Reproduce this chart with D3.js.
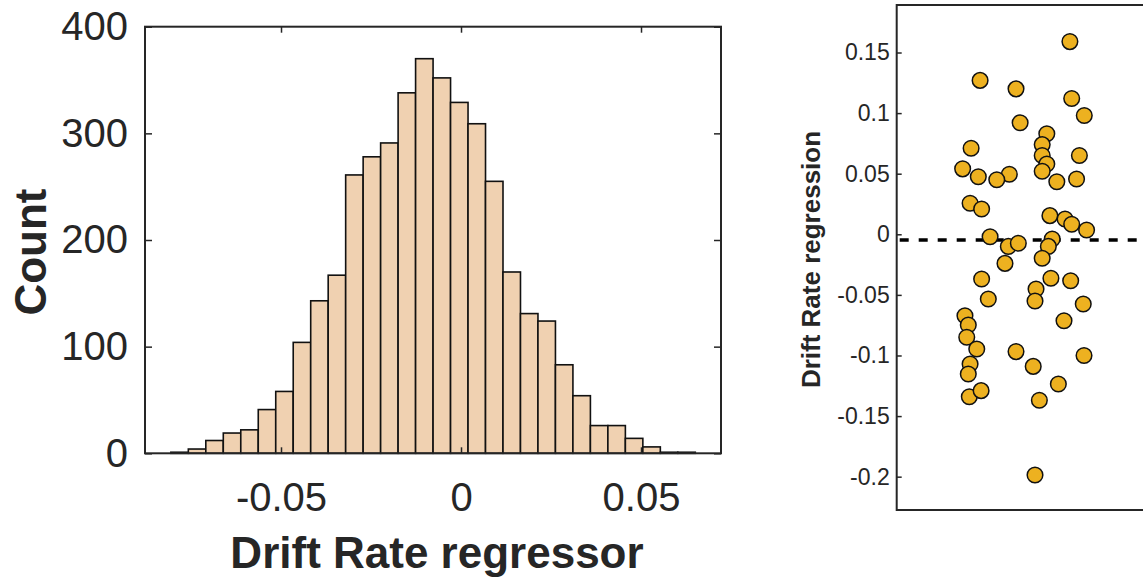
<!DOCTYPE html>
<html>
<head>
<meta charset="utf-8">
<script src="https://cdn.jsdelivr.net/npm/d3@7/dist/d3.min.js"></script>
<style>
  body { margin: 0; background: #fff; }
  svg { display: block; font-family: "Liberation Sans", Arial, Helvetica, sans-serif; }
</style>
</head>
<body>
<svg></svg>
<script>
// left panel: histogram, counts
const binStart = -0.0806;
const binWidth = 0.004856;
const binCounts = [1, 4, 12, 19, 22, 41, 58, 104, 143, 167, 261, 278, 291, 338, 370,
                   352, 329, 309, 255, 170, 131, 124, 83, 54, 26, 26, 14, 6, 1, 1];
const histXTicks = [-0.05, 0, 0.05];
const histYTicks = [0, 100, 200, 300, 400];

// right panel: one point per subject, x is jitter around 1
const subjX = [1.175, 0.825, 0.965, 1.182, 1.231, 0.981, 1.085, 0.790, 1.067, 1.067,
               1.212, 1.085, 0.757, 1.067, 0.939, 0.818, 0.890, 1.124, 1.201, 0.786,
               0.831, 1.097, 1.156, 1.182, 1.240, 0.864, 0.935, 0.974, 1.106, 1.091,
               1.067, 0.922, 0.831, 0.857, 0.766, 0.779, 0.773, 0.812, 0.786, 0.779,
               0.783, 0.829, 0.965, 1.032, 1.056, 1.130, 1.230, 1.039, 1.043, 1.039,
               1.101, 1.178, 1.227, 1.152];
const subjY = [0.159, 0.127, 0.120, 0.112, 0.098, 0.092, 0.083, 0.071, 0.074, 0.065,
               0.065, 0.058, 0.054, 0.052, 0.0495, 0.0475, 0.045, 0.0434, 0.0456, 0.0256,
               0.0209, 0.0154, 0.0126, 0.0083, 0.0035, -0.002, -0.010, -0.0074, -0.0039, -0.010,
               -0.0198, -0.024, -0.0369, -0.0534, -0.0672, -0.0748, -0.085, -0.0946, -0.107, -0.1153,
               -0.134, -0.129, -0.0968, -0.109, -0.137, -0.1235, -0.100, -0.1986, -0.0451, -0.055,
               -0.0363, -0.0383, -0.0575, -0.0713];
const meanY = -0.0047;
const scatterYTicks = [-0.2, -0.15, -0.1, -0.05, 0, 0.05, 0.1, 0.15];

const available = { width: 1143, height: 578 };
const axisColor = '#262626';

const svg = d3.select('svg')
  .attr('width', available.width)
  .attr('height', available.height);

// ---------- histogram ----------
const hist = { left: 145, top: 26.7, right: 721, bottom: 453.3 };

const hx = d3.scaleLinear().domain([-0.08778, 0.07222]).range([hist.left, hist.right]);
const hy = d3.scaleLinear().domain([0, 400]).range([hist.bottom, hist.top]);

const bins = binCounts.map((c, i) => ({
  x0: binStart + i * binWidth,
  x1: binStart + (i + 1) * binWidth,
  count: c
}));

const histG = svg.append('g').attr('class', 'hist');

histG.selectAll('rect.bar')
  .data(bins)
  .enter()
  .append('rect')
  .attr('class', 'bar')
  .attr('x', d => hx(d.x0))
  .attr('width', d => hx(d.x1) - hx(d.x0))
  .attr('y', d => hy(d.count))
  .attr('height', d => hy(0) - hy(d.count))
  .attr('fill', '#f0d1b1')
  .attr('stroke', '#111')
  .attr('stroke-width', 1.6);

const numFmt = d => String(d);

function styleAxis(g, size) {
  g.select('.domain').remove();
  g.selectAll('.tick line').attr('stroke', axisColor).attr('stroke-width', 1.5);
  g.selectAll('.tick text')
    .attr('fill', axisColor)
    .style('font-size', size + 'px');
}

histG.append('g')
  .attr('transform', `translate(0, ${hist.bottom})`)
  .call(d3.axisBottom(hx).tickValues(histXTicks).tickFormat(numFmt).tickSize(-6).tickPadding(29))
  .call(g => styleAxis(g, 40));

histG.append('g')
  .attr('transform', `translate(0, ${hist.top})`)
  .call(d3.axisTop(hx).tickValues(histXTicks).tickFormat('').tickSize(-6))
  .call(g => styleAxis(g, 40));

histG.append('g')
  .attr('transform', `translate(${hist.left}, 0)`)
  .call(d3.axisLeft(hy).tickValues(histYTicks).tickFormat(numFmt).tickSize(-7).tickPadding(17))
  .call(g => styleAxis(g, 40));

histG.append('g')
  .attr('transform', `translate(${hist.right}, 0)`)
  .call(d3.axisRight(hy).tickValues(histYTicks).tickFormat('').tickSize(-7))
  .call(g => styleAxis(g, 40));

histG.append('rect')
  .attr('x', hist.left)
  .attr('y', hist.top)
  .attr('width', hist.right - hist.left)
  .attr('height', hist.bottom - hist.top)
  .attr('fill', 'none')
  .attr('stroke', axisColor)
  .attr('stroke-width', 2);

histG.append('text')
  .attr('transform', `translate(46, ${(hist.top + hist.bottom) / 2 + 12}) rotate(-90)`)
  .attr('text-anchor', 'middle')
  .attr('fill', axisColor)
  .style('font-size', '44px')
  .style('font-weight', 'bold')
  .text('Count');

histG.append('text')
  .attr('x', 437)
  .attr('y', 568)
  .attr('text-anchor', 'middle')
  .attr('fill', axisColor)
  .style('font-size', '44px')
  .style('font-weight', 'bold')
  .text('Drift Rate regressor');

// ---------- subject scatter ----------
const sc = { left: 896.7, top: 5, right: 1153.3, bottom: 510 };

const sx = d3.scaleLinear().domain([0.5, 1.5]).range([sc.left, sc.right]);
const sy = d3.scaleLinear().domain([-0.2275, 0.1892]).range([sc.bottom, sc.top]);

const scG = svg.append('g').attr('class', 'scatter');

scG.append('g')
  .attr('transform', `translate(${sc.left}, 0)`)
  .call(d3.axisLeft(sy).tickValues(scatterYTicks).tickFormat(numFmt).tickSize(-5).tickPadding(7))
  .call(g => styleAxis(g, 23));

scG.append('line')
  .attr('x1', sx(0.5) + 3)
  .attr('x2', sx(1.5))
  .attr('y1', sy(meanY))
  .attr('y2', sy(meanY))
  .attr('stroke', '#000')
  .attr('stroke-width', 3.5)
  .attr('stroke-dasharray', '9,10');

const pts = subjX.map((x, i) => ({ x: x, y: subjY[i] }));

scG.selectAll('circle')
  .data(pts)
  .enter()
  .append('circle')
  .attr('cx', d => sx(d.x))
  .attr('cy', d => sy(d.y))
  .attr('r', 7.8)
  .attr('fill', '#edb120')
  .attr('stroke', '#111')
  .attr('stroke-width', 1.5);

scG.append('rect')
  .attr('x', sc.left)
  .attr('y', sc.top)
  .attr('width', sc.right - sc.left)
  .attr('height', sc.bottom - sc.top)
  .attr('fill', 'none')
  .attr('stroke', axisColor)
  .attr('stroke-width', 2);

scG.append('text')
  .attr('transform', `translate(820, ${(sc.top + sc.bottom) / 2 + 2}) rotate(-90)`)
  .attr('text-anchor', 'middle')
  .attr('fill', axisColor)
  .style('font-size', '26px')
  .style('font-weight', 'bold')
  .text('Drift Rate regression');
</script>
</body>
</html>
